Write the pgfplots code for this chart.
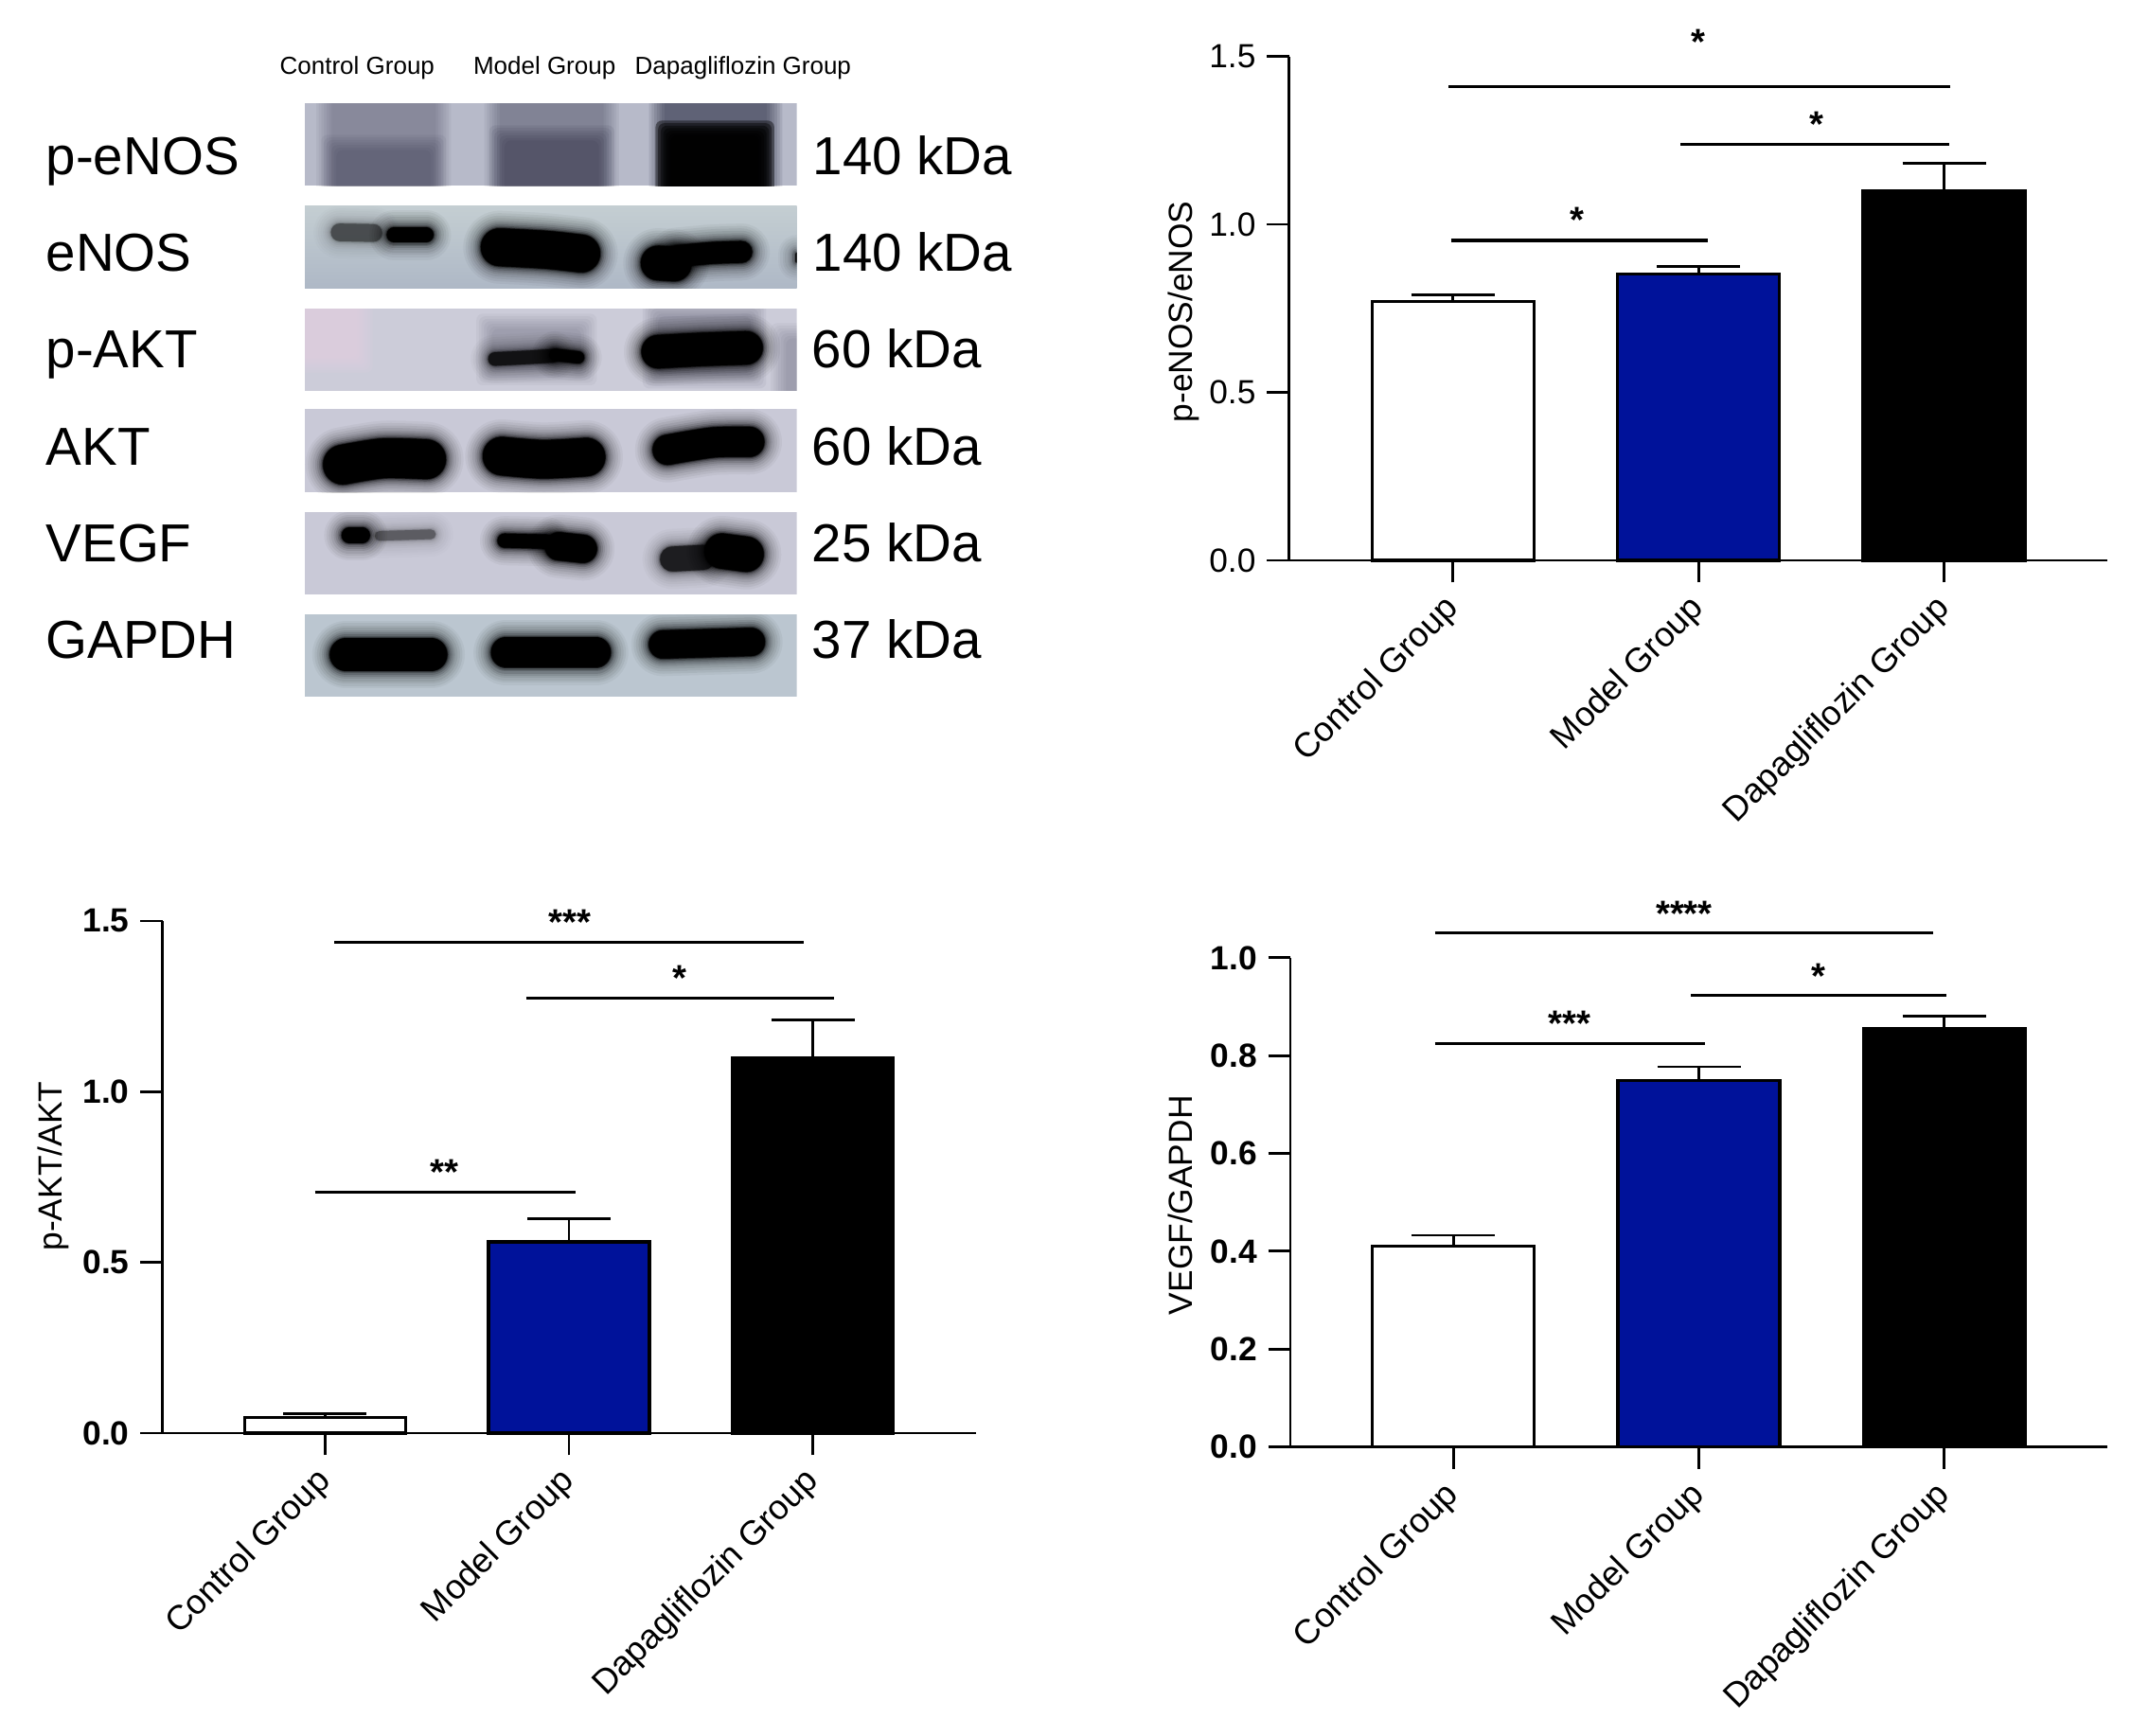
\documentclass[border=0pt]{standalone}
\usepackage{fontspec}
\setmainfont{Liberation Sans}
\usepackage{pgfplots}
\pgfplotsset{compat=1.18}

\definecolor{barblue}{HTML}{00129A}
\definecolor{blotA}{HTML}{B7BAC9}
\definecolor{blotB}{HTML}{C4CED2}
\definecolor{blotBb}{HTML}{AEB8C6}
\definecolor{blotC}{HTML}{CCCCD9}
\definecolor{blotD}{HTML}{C9C9D7}
\definecolor{blotE}{HTML}{C9C9D7}
\definecolor{blotF}{HTML}{BBC6D0}
\definecolor{navy}{HTML}{1C1C34}
\definecolor{blush}{HTML}{EBD2E5}

% blurred blot band: strength, core width, centre line
\newcommand\band[3]{%
  \foreach \d/\o in {110/.04,95/.05,80/.06,65/.07,50/.09,38/.12,26/.16,16/.22,8/.35,3/.6,0/1}{%
    \pgfmathsetmacro\op{\o*#1}%
    \draw[black,line width={(#2+\d)*0.1014pt},opacity=\op,line cap=round,line join=round]
      plot[smooth] coordinates {#3};}}
% soft edged overlay: x0,x1,y0,y1,colour,alpha of one layer
\newcommand\softrect[6]{%
  \foreach \d in {48,40,32,24,16,8,0}{%
    \fill[#5,opacity=#6,rounded corners=2pt] (#1-\d,#3-\d) rectangle (#2+\d,#4+\d);}}
\newcommand\strip[4]{%
  \begin{scope}
    \clip (6,#1) rectangle (1543,#2);
    \fill[#3] (6,#1) rectangle (1543,#2);
    #4
  \end{scope}}

\pgfplotsset{
  panel/.style={
    scale only axis,
    axis lines=left,
    axis line style={-,line width=.85pt},
    tick style={black,line width=.85pt},
    tick align=outside,
    major tick length=7pt,
    clip=false,
    xtick={0,1,2},
    xticklabels={Control Group,Model Group,Dapagliflozin Group},
    xticklabel style={rotate=45,anchor=north east,font=\fontsize{10.9}{13}\selectfont,inner sep=1pt,xshift=-3.5pt,yshift=1.4pt},
    yticklabel style={/pgf/number format/fixed,/pgf/number format/fixed zerofill,/pgf/number format/precision=1,/pgf/number format/assume math mode=true},
    ylabel style={font=\fontsize{10.6}{13}\selectfont,anchor=center},
  },
  barstyle/.style={
    ybar,bar width=51.3pt,bar shift=0pt,draw=black,line width=1pt,
    error bars/y dir=plus,error bars/y explicit,
    error bars/error bar style={black,line width=.85pt},
    error bars/error mark options={black,rotate=90,mark size=13.2pt,line width=.85pt},
  },
  sig/.style={black,line width=.85pt,no markers},
}
\tikzset{star/.style={anchor=base,inner sep=0pt,font=\fontsize{11.5}{13}\bfseries\selectfont,yshift=-5.4pt}}

\begin{document}
\begin{tikzpicture}[x=1pt,y=1pt]
\useasboundingbox (0,0) rectangle (675.3,549.9);

% ---- blot panel, text
\begin{scope}[every node/.style={anchor=base west,inner sep=0pt,font=\fontsize{7.8}{9}\selectfont}]
  \node at (88.5,526.2) {Control Group};
  \node at (149.8,526.2) {Model Group};
  \node at (201,526.2) {Dapagliflozin Group};
\end{scope}
\begin{scope}[every node/.style={anchor=base west,inner sep=0pt,font=\fontsize{16.95}{19}\selectfont}]
  \node at (14.4,494.5) {p-eNOS};   \node at (257.4,494.5) {140 kDa};
  \node at (14.4,463.9) {eNOS};     \node at (257.4,463.9) {140 kDa};
  \node at (14.4,433.3) {p-AKT};    \node at (257.1,433.3) {60 kDa};
  \node at (14.4,402.4) {AKT};      \node at (257.1,402.4) {60 kDa};
  \node at (14.4,371.8) {VEGF};     \node at (257.1,371.8) {25 kDa};
  \node at (14.4,341.2) {GAPDH};    \node at (257.1,341.2) {37 kDa};
\end{scope}

% ---- blot strips
\begin{scope}[shift={(96,519.9)},x=0.1014pt,y=-0.10033pt]
  \strip{27}{288}{blotA}{
    \softrect{90}{415}{-40}{340}{navy}{.047}
    \softrect{105}{400}{175}{340}{navy}{.05}
    \softrect{615}{940}{-40}{340}{navy}{.055}
    \softrect{630}{925}{145}{340}{navy}{.075}
    \softrect{1130}{1450}{-40}{340}{navy}{.105}
    \softrect{1150}{1425}{130}{340}{black}{.42}
  }
  \strip{352}{611}{blotB}{
    \shade[top color=blotB,bottom color=blotBb] (6,352) rectangle (1543,611);
    \band{.3}{55}{(115,435) (220,437)}
    \band{1}{46}{(285,443) (385,443)}
    \band{1}{118}{(615,482) (760,490) (870,502)}
    \band{1}{108}{(1110,532) (1160,535)}
    \band{1}{68}{(1170,510) (1280,500) (1370,497)}
    \band{.7}{12}{(1545,505) (1545,525)}
  }
  \strip{676}{935}{blotC}{
    \softrect{-30}{170}{640}{830}{blush}{.10}
    \softrect{590}{870}{740}{870}{navy}{.038}
    \softrect{1110}{1400}{700}{880}{navy}{.047}
    \softrect{1510}{1600}{770}{980}{navy}{.04}
    \band{.6}{42}{(600,835) (700,830) (780,825)}
    \band{1}{38}{(790,822) (860,830)}
    \band{1}{104}{(1110,812) (1240,805) (1385,800)}
  }
\end{scope}
\begin{scope}[shift={(96,423.9)},x=0.1014pt,y=-0.10033pt]
  \strip{37}{300}{blotD}{
    \band{1}{124}{(125,212) (250,192) (385,195)}
    \band{1}{120}{(622,185) (750,195) (885,188)}
    \band{1}{94}{(1140,165) (1280,142) (1395,140)}
  }
  \strip{363}{622}{blotE}{
    \band{1}{48}{(145,435) (185,435)}
    \band{.25}{30}{(240,437) (400,432)}
    \band{1}{44}{(630,452) (760,455)}
    \band{1}{88}{(800,470) (875,478)}
    \band{.55}{78}{(1155,510) (1250,505)}
    \band{1}{110}{(1310,485) (1385,495)}
  }
  \strip{685}{944}{blotF}{
    \band{1}{102}{(135,812) (400,812)}
    \band{1}{94}{(635,805) (915,805)}
    \band{1}{88}{(1125,780) (1400,772)}
  }
\end{scope}

% ---- p-eNOS/eNOS
\begin{axis}[panel,at={(408.45pt,372.3pt)},anchor=south west,width=259.35pt,height=159.75pt,
  xmin=-0.6675,xmax=2.665,ymin=0,ymax=1.5,ytick={0,0.5,1,1.5},
  yticklabel style={font=\fontsize{10.6}{13}\selectfont},
  ylabel={p-eNOS/eNOS},ylabel style={at={(axis description cs:-0.129,0.493)}}]
\addplot[barstyle,fill=white] coordinates {(0,0.77) +- (0,0.02)};
\addplot[barstyle,fill=barblue] coordinates {(1,0.853) +- (0,0.022)};
\addplot[barstyle,fill=black] coordinates {(2,1.10) +- (0,0.082)};
\addplot[sig] coordinates {(-0.018,1.41) (2.025,1.41)};
\addplot[sig] coordinates {(0.928,1.239) (2.02,1.239)};
\addplot[sig,line width=1.15pt] coordinates {(-0.008,0.953) (1.04,0.953)};
\node[star] at (axis cs:1.0,1.557) {*};
\node[star] at (axis cs:1.48,1.31) {*};
\node[star] at (axis cs:0.506,1.027) {*};
\end{axis}

% ---- p-AKT/AKT
\begin{axis}[panel,at={(51.5pt,95.7pt)},anchor=south west,width=257.8pt,height=162.3pt,
  xmin=-0.667,xmax=2.669,ymin=0,ymax=1.5,ytick={0,0.5,1,1.5},
  yticklabel style={font=\fontsize{10.6}{13}\bfseries\selectfont},
  ylabel={p-AKT/AKT},ylabel style={at={(axis description cs:-0.134,0.521)}}]
\addplot[barstyle,bar width=51pt,fill=white] coordinates {(0,0.046) +- (0,0.0115)};
\addplot[barstyle,bar width=51pt,fill=barblue] coordinates {(1,0.56) +- (0,0.068)};
\addplot[barstyle,bar width=51pt,fill=black] coordinates {(2,1.10) +- (0,0.11)};
\addplot[sig] coordinates {(0.037,1.438) (1.963,1.438)};
\addplot[sig] coordinates {(0.824,1.273) (2.087,1.273)};
\addplot[sig] coordinates {(-0.042,0.706) (1.026,0.706)};
\node[star] at (axis cs:1.003,1.511) {***};
\node[star] at (axis cs:1.454,1.345) {*};
\node[star] at (axis cs:0.488,0.778) {**};
\end{axis}

% ---- VEGF/GAPDH
\begin{axis}[panel,at={(408.9pt,91.35pt)},anchor=south west,width=258.9pt,height=155pt,
  xmin=-0.664,xmax=2.664,ymin=0,ymax=1,ytick={0,0.2,0.4,0.6,0.8,1},
  yticklabel style={font=\fontsize{10.6}{13}\bfseries\selectfont},
  ylabel={VEGF/GAPDH},ylabel style={at={(axis description cs:-0.134,0.494)}}]
\addplot[barstyle,fill=white] coordinates {(0,0.41) +- (0,0.0226)};
\addplot[barstyle,fill=barblue] coordinates {(1,0.749) +- (0,0.028)};
\addplot[barstyle,fill=black] coordinates {(2,0.856) +- (0,0.024)};
\addplot[sig] coordinates {(-0.075,1.051) (1.953,1.051)};
\addplot[sig] coordinates {(0.969,0.923) (2.008,0.923)};
\addplot[sig] coordinates {(-0.075,0.825) (1.026,0.825)};
\node[star] at (axis cs:0.94,1.10) {****};
\node[star] at (axis cs:1.486,0.972) {*};
\node[star] at (axis cs:0.473,0.874) {***};
\end{axis}
\end{tikzpicture}
\end{document}
